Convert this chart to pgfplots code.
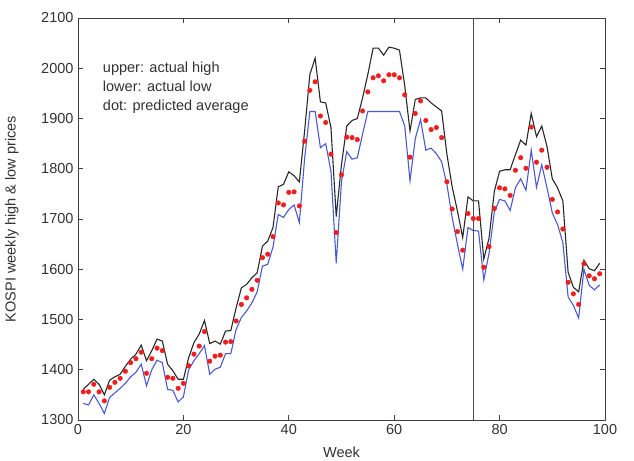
\documentclass[border=0pt]{standalone}
\usepackage{fontspec}
\setmainfont{Liberation Sans}
\usepackage{pgfplots}
\usepackage{pgfplotstable}
\pgfplotsset{compat=1.18}
\definecolor{hicol}{RGB}{40,40,40}
\definecolor{locol}{RGB}{75,90,205}
\definecolor{dotcol}{RGB}{240,30,30}
\definecolor{txtcol}{RGB}{50,50,50}
\pgfplotstableread{
w hi lo pr
1 1361 1333 1356
2 1371 1330 1356
3 1381 1350 1371
4 1371 1333 1356
5 1350 1313 1338
6 1379 1345 1365
7 1386 1354 1375
8 1391 1363 1383
9 1407 1373 1397
10 1421 1386 1414
11 1431 1395 1422
12 1449 1411 1435
13 1418 1368 1393
14 1438 1400 1422
15 1461 1419 1443
16 1457 1414 1438
17 1411 1361 1385
18 1398 1359 1383
19 1381 1336 1363
20 1381 1346 1373
21 1424 1400 1408
22 1454 1418 1431
23 1471 1432 1447
24 1498 1448 1476
25 1452 1391 1417
26 1457 1401 1427
27 1451 1405 1429
28 1477 1432 1455
29 1478 1432 1456
30 1523 1480 1497
31 1563 1504 1530
32 1570 1517 1543
33 1583 1533 1560
34 1593 1555 1578
35 1646 1606 1623
36 1656 1610 1630
37 1683 1644 1665
38 1764 1709 1732
39 1769 1703 1728
40 1794 1719 1753
41 1786 1728 1754
42 1774 1693 1726
43 1875 1820 1855
44 1988 1914 1956
45 2020 1914 1973
46 1933 1842 1905
47 1931 1850 1892
48 1882 1795 1829
49 1705 1612 1673
50 1809 1775 1788
51 1885 1834 1863
52 1896 1819 1862
53 1900 1822 1858
54 1941 1869 1915
55 1988 1914 1953
56 2040 1914 1981
57 2040 1914 1985
58 2026 1914 1975
59 2042 1914 1987
60 2040 1914 1987
61 2036 1914 1981
62 1965 1885 1947
63 1875 1776 1823
64 1938 1860 1910
65 1941 1898 1935
66 1941 1837 1896
67 1931 1841 1878
68 1923 1830 1882
69 1915 1814 1862
70 1829 1769 1774
71 1764 1703 1720
72 1716 1650 1675
73 1663 1600 1638
74 1744 1683 1711
75 1736 1677 1701
76 1736 1676 1701
77 1620 1579 1604
78 1662 1632 1645
79 1755 1714 1721
80 1795 1739 1762
81 1798 1736 1760
82 1798 1717 1747
83 1828 1762 1797
84 1857 1780 1822
85 1847 1757 1801
86 1910 1837 1883
87 1864 1763 1813
88 1885 1808 1837
89 1844 1762 1803
90 1780 1712 1739
91 1762 1689 1714
92 1736 1653 1680
93 1594 1545 1574
94 1564 1528 1551
95 1555 1503 1530
96 1618 1600 1611
97 1601 1568 1587
98 1597 1559 1581
99 1612 1569 1591
}\kospi
\begin{document}
\begin{tikzpicture}
\begin{axis}[
  scale only axis, width=527pt, height=402pt,
  xmin=0, xmax=100, ymin=1300, ymax=2100,
  xtick={0,20,...,100}, ytick={1300,1400,...,2100},
  tick align=inside, major tick length=5pt,
  tick style={black!75, line width=0.7pt},
  axis line style={black!75, line width=0.7pt},
  /pgf/number format/assume math mode=true,
  /pgf/number format/1000 sep={},
  tick label style={font=\fontsize{14.5}{16}\selectfont, text=txtcol},
  xticklabel style={yshift=-1pt},
  yticklabel style={xshift=-1pt},
  xlabel={Week}, ylabel={KOSPI weekly high \& low prices},
  label style={font=\fontsize{14.5}{16}\selectfont, text=txtcol},
  xlabel style={at={([yshift=-32pt]axis description cs:0.5,0)}, anchor=center},
  ylabel style={at={([xshift=-66pt]axis description cs:0,0.5)}, anchor=center, rotate=0},
  clip=false,
]
\addplot[hicol, line width=1.1pt, no markers] table[x=w, y=hi] {\kospi};
\addplot[locol, line width=1.1pt, no markers] table[x=w, y=lo] {\kospi};
\addplot[only marks, mark=*, mark size=2.3pt, dotcol, mark options={draw=dotcol, fill=dotcol}] table[x=w, y=pr] {\kospi};
\addplot[black!70, line width=1.3pt, no markers] coordinates {(75,1300) (75,2100)};
\node[anchor=north west, inner sep=0pt, align=left, text=txtcol,
      font=\fontsize{14.5}{19}\selectfont] at (axis cs:4.7,2013)
  {upper: actual high\\lower: actual low\\dot: predicted average};
\end{axis}
\pgfresetboundingbox
\path[use as bounding box] ([xshift=-78pt,yshift=-41pt]current axis.south west) rectangle ([xshift=29pt,yshift=18pt]current axis.north east);
\end{tikzpicture}
\end{document}
